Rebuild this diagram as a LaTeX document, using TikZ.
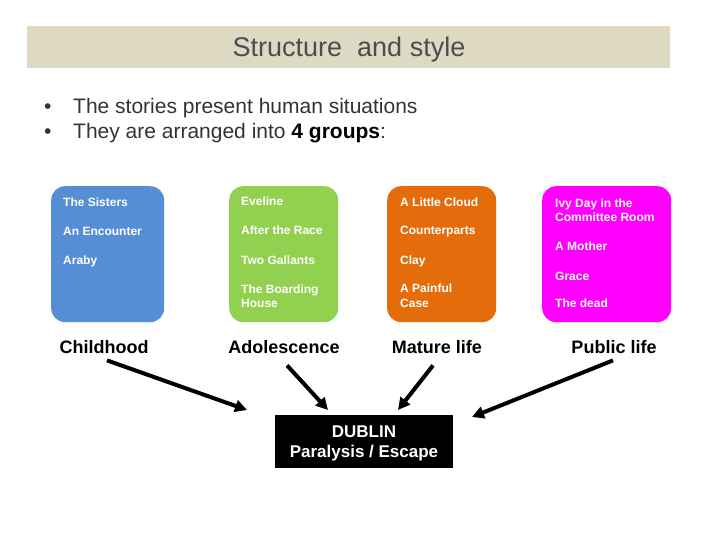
\documentclass[tikz,border=0pt]{standalone}
\usepackage{fontspec}
\setmainfont{Liberation Sans}
\usetikzlibrary{arrows.meta}
\definecolor{bandc}{RGB}{221,217,195}
\definecolor{titlec}{RGB}{77,77,77}
\definecolor{bulletc}{RGB}{51,51,51}
\definecolor{bluec}{RGB}{85,142,213}
\definecolor{greenc}{RGB}{146,208,80}
\definecolor{orangec}{RGB}{228,108,10}
\definecolor{magc}{RGB}{255,0,255}
\tikzset{
  groupbox/.style={draw=none, rounded corners=14pt, anchor=north west, inner sep=0pt,
    minimum width=#1, minimum height=136pt},
  storytext/.style={anchor=base west, inner sep=0pt, text=white,
    font=\fontsize{12}{14}\selectfont\bfseries},
  grouplabel/.style={anchor=base, inner sep=0pt, text=black,
    font=\fontsize{18}{20}\selectfont\bfseries},
  bullettext/.style={anchor=base west, inner sep=0pt, text=bulletc,
    font=\fontsize{21}{24}\selectfont},
  bigarrow/.style={line width=4pt, -{Triangle[length=12pt,width=12pt]}, black},
}
\begin{document}
\begin{tikzpicture}[x=1pt,y=-1pt]
\useasboundingbox (0,0) rectangle (720,540);
\fill[white] (0,0) rectangle (720,540);
% title band
\node[fill=bandc, anchor=north west, minimum width=643pt, minimum height=42pt, inner sep=0pt] (band) at (27,26) {};
\node[anchor=base, inner sep=0pt, text=titlec, font=\fontsize{27}{30}\selectfont] (title) at (349,57) {Structure\ \ and style};
% bullets
\node[bullettext] (b1dot) at (44,113.5) {•};
\node[bullettext] (b1) at (73,113.5) {The stories present human situations};
\node[bullettext] (b2dot) at (44,138.5) {•};
\node[bullettext] (b2) at (73,138.5) {They are arranged into \textcolor{black}{\bfseries 4 groups}:};
% group boxes
\node[groupbox=113pt, fill=bluec] (gblue) at (51,186) {};
\node[groupbox=109pt, fill=greenc] (ggreen) at (229,186) {};
\node[groupbox=109pt, fill=orangec] (gorange) at (387,186) {};
\node[groupbox=129pt, fill=magc] (gmag) at (542,186) {};
% blue texts
\node[storytext] (s1) at (63,207) {The Sisters};
\node[storytext] (s2) at (63,235.5) {An Encounter};
\node[storytext] (s3) at (63,264.5) {Araby};
% green texts
\node[storytext] (s4) at (241,206) {Eveline};
\node[storytext] (s5) at (241,235) {After the Race};
\node[storytext] (s6) at (241,264) {Two Gallants};
\node[storytext] (s7a) at (241,293) {The Boarding};
\node[storytext] (s7b) at (241,307) {House};
% orange texts
\node[storytext] (s8) at (400,207) {A Little Cloud};
\node[storytext] (s9) at (400,235) {Counterparts};
\node[storytext] (s10) at (400,264) {Clay};
\node[storytext] (s11a) at (400,292.5) {A Painful};
\node[storytext] (s11b) at (400,307) {Case};
% magenta texts
\node[storytext] (s12a) at (555,207.5) {Ivy Day in the};
\node[storytext] (s12b) at (555,221.5) {Committee Room};
\node[storytext] (s13) at (555,251) {A Mother};
\node[storytext] (s14) at (555,280) {Grace};
\node[storytext] (s15) at (555,307.5) {The dead};
% group labels
\node[grouplabel] (lchild) at (104,353) {Childhood};
\node[grouplabel] (ladol) at (284,353) {Adolescence};
\node[grouplabel] (lmature) at (437,353) {Mature life};
\node[grouplabel] (lpublic) at (614,353) {Public life};
% Dublin box
\node[fill=black, anchor=north west, minimum width=178pt, minimum height=53pt, inner sep=0pt] (dublin) at (275,415) {};
\node[anchor=base, inner sep=0pt, text=white, font=\fontsize{17}{20}\selectfont\bfseries] (dub1) at (364,437) {DUBLIN};
\node[anchor=base, inner sep=0pt, text=white, font=\fontsize{17}{20}\selectfont\bfseries] (dub2) at (364,457.5) {Paralysis / Escape};
% arrow ends
\coordinate (e1) at (247,410);
\coordinate (e2) at (328,410);
\coordinate (e3) at (398,410);
\coordinate (e4) at (472,417);
\draw[bigarrow] ([shift={(3,7)}]lchild.south) -- (e1);
\draw[bigarrow] ([shift={(3,12)}]ladol.south) -- (e2);
\draw[bigarrow] ([shift={(-4,12)}]lmature.south) -- (e3);
\draw[bigarrow] ([shift={(-1,7)}]lpublic.south) -- (e4);
\end{tikzpicture}
\end{document}
